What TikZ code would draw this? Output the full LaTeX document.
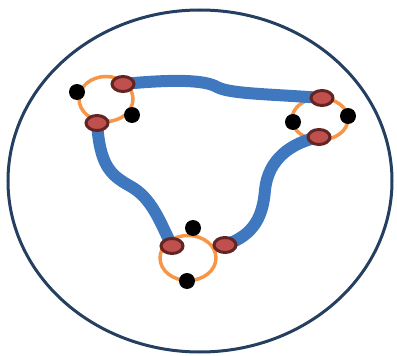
\documentclass[tikz,border=0pt]{standalone}
\usepackage{tikz}
\usetikzlibrary{shapes.geometric}
\definecolor{rimcol}{HTML}{243F60}
\definecolor{ringcol}{HTML}{F79646}
\definecolor{wirecol}{HTML}{3F78BE}
\definecolor{sitecol}{HTML}{C0504D}
\definecolor{siterim}{HTML}{632523}
\tikzset{
  ring/.style={ellipse, draw=ringcol, line width=3.5pt, minimum width=54pt, minimum height=45pt, inner sep=0pt},
  wire/.style={draw=wirecol, line width=12pt},
  site/.style={ellipse, fill=sitecol, draw=siterim, line width=3pt, minimum width=22pt, minimum height=15pt, inner sep=0pt},
  dot/.style={circle, fill=black, minimum size=16pt, inner sep=0pt}
}

\begin{document}
\begin{tikzpicture}[x=1pt, y=-1pt]
                \useasboundingbox (0,0) rectangle (397,356);
                \draw[rimcol, line width=3pt] (200,181) ellipse (192 and 171);

                \node[ring] (lring) at (106,99) {};
                \node[ring, minimum width=56pt, minimum height=42pt] (rring) at (320,119) {};
                \node[ring, minimum width=56pt] (bring) at (188,258) {};

                \coordinate (la) at (123,84);
                \coordinate (lb) at (97,123);
                \coordinate (ra) at (322,98);
                \coordinate (rb) at (319,137);
                \coordinate (ba) at (172,246);
                \coordinate (bb) at (225,245);

                % la to ra
                \draw[wire] (la) .. controls (175,79) and (205,80) .. (217,87) .. controls (230,94) and (270,94) .. (ra);
                % lb to ba
                \draw[wire] (lb) .. controls (100,165) and (110,175) .. (130,186) .. controls (152,198) and (160,222) .. (ba);
                % bb to rb
                \draw[wire] (bb) .. controls (255,235) and (263,215) .. (265,190) .. controls (268,160) and (290,143) .. (rb);

                \node[site] (lsa) at (la) {};
                \node[site] (lsb) at (lb) {};
                \node[site] (rsa) at (ra) {};
                \node[site] (rsb) at (rb) {};
                \node[site] (bsa) at (ba) {};
                \node[site] (bsb) at (bb) {};

                \node[dot] (lda) at (77,92) {};
                \node[dot] (ldb) at (132,115) {};
                \node[dot] (rda) at (293,122) {};
                \node[dot] (rdb) at (348,116) {};
                \node[dot] (bda) at (193,228) {};
                \node[dot] (bdb) at (187,281) {};
            \end{tikzpicture}
\end{document}
